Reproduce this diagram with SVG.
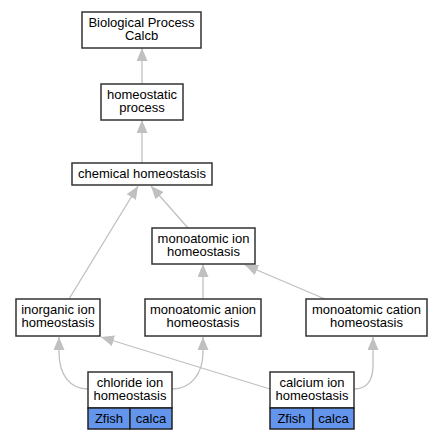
<svg xmlns="http://www.w3.org/2000/svg" width="443" height="440" viewBox="0 0 443 440">
<style>
.n{fill:#fff;stroke:#333;stroke-width:1.5}
.b{fill:#6495ed;stroke:#222;stroke-width:1.5}
.t{font-family:"Liberation Sans",Arial,sans-serif;font-size:13px;fill:#000;text-anchor:middle}
.e{fill:none;stroke:#c0c0c0;stroke-width:1.3;marker-end:url(#ah)}
</style>
<defs>
<marker id="ah" markerUnits="userSpaceOnUse" markerWidth="13" markerHeight="11" refX="13" refY="5.5" orient="auto" viewBox="0 0 13 11">
<path d="M0,0 L13,5.5 L0,11 z" fill="#c0c0c0"/>
</marker>
</defs>
<rect width="443" height="440" fill="#fff"/>
<g id="edges">
<path class="e" d="M142,84 L142,48"/>
<path class="e" d="M142,163 L142,120"/>
<path class="e" d="M69,299 L138,186"/>
<path class="e" d="M188,228 L151,186"/>
<path class="e" d="M203,299 L203,264"/>
<path class="e" d="M325,299 L245,265"/>
<path class="e" d="M88,389 C70,389 59,375 59,352 L59,337"/>
<path class="e" d="M172,389 C190,389 203,375 203,352 L203,337"/>
<path class="e" d="M270,389 L101,337"/>
<path class="e" d="M354,389 C368,389 373,380 373,365 L373,337"/>
</g>
<g id="n1"><rect class="n" x="82" y="12" width="119" height="36"/><text class="t" x="141.5" y="26.5">Biological Process</text><text class="t" x="141.5" y="39.5">Calcb</text></g>
<g id="n2"><rect class="n" x="101" y="84" width="82" height="36"/><text class="t" x="142" y="98.5">homeostatic</text><text class="t" x="142" y="111.5">process</text></g>
<g id="n3"><rect class="n" x="72" y="163" width="140" height="22"/><text class="t" x="142" y="178">chemical homeostasis</text></g>
<g id="n4"><rect class="n" x="152" y="228" width="103" height="36"/><text class="t" x="203.5" y="242.5">monoatomic ion</text><text class="t" x="203.5" y="255.5">homeostasis</text></g>
<g id="n5"><rect class="n" x="16" y="299" width="84" height="37"/><text class="t" x="58" y="314">inorganic ion</text><text class="t" x="58" y="327">homeostasis</text></g>
<g id="n6"><rect class="n" x="145" y="299" width="116" height="37"/><text class="t" x="203" y="314">monoatomic anion</text><text class="t" x="203" y="327">homeostasis</text></g>
<g id="n7"><rect class="n" x="306" y="299" width="121" height="37"/><text class="t" x="366.5" y="314">monoatomic cation</text><text class="t" x="366.5" y="327">homeostasis</text></g>
<g id="n8"><rect class="n" x="88" y="372" width="84" height="36"/><rect class="b" x="88" y="408" width="42" height="21"/><rect class="b" x="130" y="408" width="42" height="21"/><text class="t" x="130" y="386.5">chloride ion</text><text class="t" x="130" y="399.5">homeostasis</text><text class="t" x="109" y="422.5">Zfish</text><text class="t" x="151" y="422.5">calca</text></g>
<g id="n9"><rect class="n" x="270" y="372" width="84" height="36"/><rect class="b" x="270" y="408" width="43" height="21"/><rect class="b" x="313" y="408" width="41" height="21"/><text class="t" x="312" y="386.5">calcium ion</text><text class="t" x="312" y="399.5">homeostasis</text><text class="t" x="291.5" y="422.5">Zfish</text><text class="t" x="333.5" y="422.5">calca</text></g>
</svg>
